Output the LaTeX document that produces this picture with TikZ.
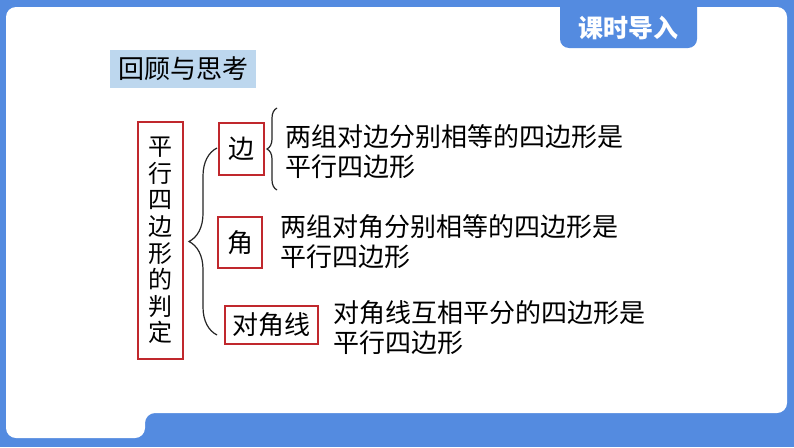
\documentclass[tikz,border=0pt]{standalone}
\usepackage{fontspec}
\setmainfont{Noto Sans CJK SC}
\usetikzlibrary{decorations.pathreplacing,positioning}
\definecolor{bgBlue}{RGB}{84,139,224}
\definecolor{boxRed}{RGB}{192,40,45}
\definecolor{reviewBlue}{RGB}{189,215,238}

\begin{document}
\begin{tikzpicture}[x=1pt,y=-1pt,
  redbox/.style={draw=boxRed,line width=1.4pt,inner sep=0pt,font=\fontsize{26}{28}\selectfont},
  desc/.style={anchor=west,align=left,inner sep=0pt,font=\fontsize{26}{30}\selectfont},
  curly/.style={decorate,line width=1.2pt,draw=black!85}]

% background and white sheet
\fill[bgBlue] (0,0) rectangle (794,447);
\useasboundingbox (0,0) rectangle (794,447);
\fill[white,rounded corners=10pt] (6,438) -- (6,7) -- (787,7) -- (787,413) -- (145,413) -- (145,438) -- cycle;

% tab at the top
\fill[bgBlue,rounded corners=9pt] (560,-10) rectangle (697,48);
\node[text=white,font=\fontsize{25}{25}\selectfont\bfseries] (tab) at (628.5,28) {课时导入};

% review label
\node[fill=reviewBlue,minimum width=146pt,minimum height=38pt,inner sep=0pt,font=\fontsize{26}{28}\selectfont] (review) at (183,69) {回顾与思考};

% the vertical title
\node[redbox,minimum width=45pt,minimum height=237pt,align=center,font=\fontsize{24}{26.6}\selectfont] (title) at (160.5,240.5) {平\\行\\四\\边\\形\\的\\判\\定};

% the three criteria
\foreach \nm/\cx/\cy/\w/\h/\lbl/\tx/\ty/\txt in {
  side/241.5/149/45/52/边/285/152/{两组对边分别相等的四边形是\\平行四边形},
  angle/240/242.5/44/51/角/280/242/{两组对角分别相等的四边形是\\平行四边形},
  diag/271.5/325/93/38/对角线/333/328/{对角线互相平分的四边形是\\平行四边形}}
{
  \node[redbox,minimum width=\w pt,minimum height=\h pt] (\nm) at (\cx,\cy) {\lbl};
  \node[desc] (\nm txt) at (\tx,\ty) {\txt};
}

% braces
\coordinate (bigTop) at (217,148);
\coordinate (bigBot) at (217,335);
\coordinate (smallTop) at (277,108);
\coordinate (smallBot) at (277,190);
\draw[curly,decoration={brace,amplitude=28pt}] (bigBot) -- (bigTop);
\draw[curly,decoration={brace,amplitude=10pt}] (smallBot) -- (smallTop);

\end{tikzpicture}
\end{document}
